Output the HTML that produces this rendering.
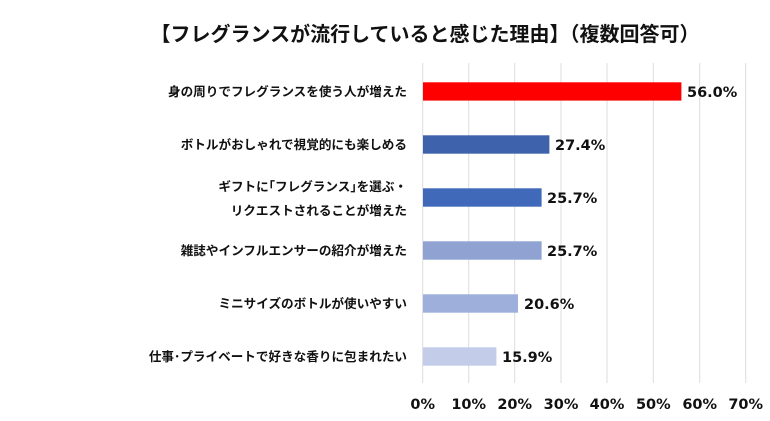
<!DOCTYPE html>
<html><head><meta charset="utf-8"><style>
body{margin:0;background:#fff;}
svg text{font-family:"Liberation Sans","Noto Sans CJK JP",sans-serif;font-weight:bold;fill:#111;}
svg text.n{font-family:"DejaVu Sans",sans-serif;}
</style></head><body>
<svg width="770" height="416" xmlns="http://www.w3.org/2000/svg">
<rect width="770" height="416" fill="#fff"/>
<text x="425" y="41" text-anchor="middle" font-size="20">【フレグランスが流行していると感じた理由】（複数回答可）</text>
<g stroke="#dcdcdc" stroke-width="1">
<line x1="422.7" y1="63" x2="422.7" y2="383"/><line x1="468.7" y1="63" x2="468.7" y2="383"/>
<line x1="514.7" y1="63" x2="514.7" y2="383"/><line x1="561" y1="63" x2="561" y2="383"/>
<line x1="607" y1="63" x2="607" y2="383"/><line x1="653.3" y1="63" x2="653.3" y2="383"/>
<line x1="699.7" y1="63" x2="699.7" y2="383"/><line x1="745.7" y1="63" x2="745.7" y2="383"/>
</g>
<rect x="423" y="82.3" width="258.4" height="18.3" fill="#ff0000"/>
<rect x="423" y="135.3" width="126.4" height="18.4" fill="#3f62ad"/>
<rect x="423" y="188.3" width="118.6" height="18.4" fill="#4169b9"/>
<rect x="423" y="241.3" width="118.6" height="18.4" fill="#8fa2d2"/>
<rect x="423" y="294.3" width="95" height="18.4" fill="#9eafdb"/>
<rect x="423" y="347.3" width="73.4" height="18.4" fill="#c3cce8"/>
<g font-size="14.5">
<text class="n" x="687" y="97">56.0%</text>
<text class="n" x="555" y="150">27.4%</text>
<text class="n" x="547" y="203">25.7%</text>
<text class="n" x="547" y="256">25.7%</text>
<text class="n" x="524" y="309">20.6%</text>
<text class="n" x="502" y="362">15.9%</text>
</g>
<g font-size="12.6" text-anchor="end">
<text x="407" y="96">身の周りでフレグランスを使う人が増えた</text>
<text x="407" y="149">ボトルがおしゃれで視覚的にも楽しめる</text>
<text x="407" y="191">ギフトに｢フレグランス｣を選ぶ・</text>
<text x="407" y="215">リクエストされることが増えた</text>
<text x="407" y="255">雑誌やインフルエンサーの紹介が増えた</text>
<text x="407" y="308">ミニサイズのボトルが使いやすい</text>
<text x="407" y="361">仕事･プライベートで好きな香りに包まれたい</text>
</g>
<g font-size="14.5" text-anchor="middle">
<text class="n" x="422.7" y="409">0%</text><text class="n" x="468.7" y="409">10%</text><text class="n" x="514.7" y="409">20%</text>
<text class="n" x="561" y="409">30%</text><text class="n" x="607" y="409">40%</text><text class="n" x="653.3" y="409">50%</text>
<text class="n" x="699.7" y="409">60%</text><text class="n" x="745.7" y="409">70%</text>
</g>
</svg>
</body></html>
